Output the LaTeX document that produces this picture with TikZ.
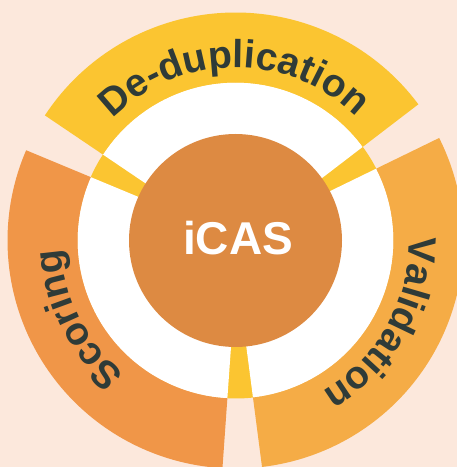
\documentclass[tikz,border=0pt]{standalone}
\usepackage{fontspec}
\setmainfont{Liberation Sans}
\usetikzlibrary{decorations.text}
\definecolor{bg}{HTML}{FCE8DC}
\definecolor{ydd}{HTML}{FBC531}
\definecolor{osc}{HTML}{F09648}
\definecolor{oval}{HTML}{F5AC46}
\definecolor{ocore}{HTML}{DD8A42}
\definecolor{ink}{HTML}{2F3B38}
\newcommand\ringlab{\fontsize{39}{39}\selectfont\bfseries}
\tikzset{
  corelabel/.style={text=white, font=\fontsize{46}{46}\selectfont\bfseries, inner sep=0pt},
  ringtext/.style={decorate, decoration={text along path, text={|\ringlab|#1}, text align=center, text color=ink}}
}
\begin{document}
\begin{tikzpicture}[x=1pt,y=1pt]
\clip (0,0) rectangle (457,467);
\fill[bg] (0,0) rectangle (457,467);
\begin{scope}[shift={(235.5,226.5)}]
  \fill[ydd] (0,0) circle[radius=158pt];
  \foreach \a/\b in {31.7/151.7,151.7/271.7,271.7/391.7}{
    \fill[white] ({\a+4.01}:100pt) -- ({\a+4.65}:158pt)
      arc[start angle=\a+4.65, end angle=\b-4.65, radius=158pt]
      -- ({\b-4.01}:100pt)
      arc[start angle=\b-4.01, end angle=\a+4.01, radius=100pt] -- cycle;
  }
  \foreach \a/\b/\c in {31.7/151.7/ydd,151.7/271.7/osc,271.7/391.7/oval}{
    \fill[\c] ({\a+4.65}:158pt) -- ({\a+4.98}:228pt)
      arc[start angle=\a+4.98, end angle=\b-4.98, radius=228pt]
      -- ({\b-4.65}:158pt)
      arc[start angle=\b-4.65, end angle=\a+4.65, radius=158pt] -- cycle;
  }
  \fill[ocore] (0,0) circle[radius=106.5pt];
  \node[corelabel] (core) at (2.5,2) {iCAS};
  \path[ringtext={De-duplication}] (140.5:173pt) arc[start angle=140.5, end angle=40.5, radius=173pt];
  \path[ringtext={Scoring}] (241.5:174pt) arc[start angle=241.5, end angle=171.5, radius=174pt];
  \path[ringtext={Validation}] (10.5:174pt) arc[start angle=10.5, end angle=-69.5, radius=174pt];
\end{scope}
\end{tikzpicture}
\end{document}
